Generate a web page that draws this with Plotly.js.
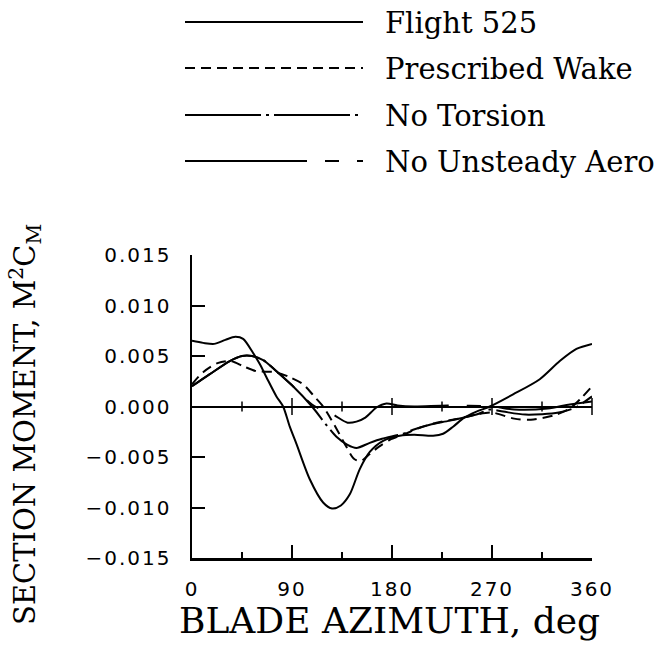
<!DOCTYPE html>
<html>
<head>
<meta charset="utf-8">
<script src="https://cdn.plot.ly/plotly-3.0.1.min.js"></script>
<style>
html,body{margin:0;padding:0;background:#fff;}
.xtick text, .ytick text { letter-spacing: 2px; }
</style>
</head>
<body>
<div id="chart" style="width:656px;height:646px;"></div>
<script>
// ---- data ----
const seriesNames = ["Flight 525", "Prescribed Wake", "No Torsion", "No Unsteady Aero"];

const flightX = [0, 10, 20, 30, 39, 46, 55, 61, 67, 76, 82, 88, 94, 106, 118, 126, 134, 142, 151, 160, 172, 187, 200, 217, 226, 235, 245, 256, 268, 289, 313, 331, 346, 360];
const flightY = [0.0065, 0.0063, 0.0062, 0.0066, 0.0069, 0.0067, 0.0053, 0.0042, 0.0029, 0.0010, 0.0, -0.0020, -0.0037, -0.0072, -0.0095, -0.0101, -0.0098, -0.0087, -0.0062, -0.0045, -0.0034, -0.0029, -0.0028, -0.0029, -0.0027, -0.0020, -0.0011, -0.0005, 0.0, 0.0012, 0.0027, 0.0045, 0.0057, 0.0062];

const wakeX = [0, 10, 23, 35, 46, 58, 75, 88, 100, 110, 118, 128, 138, 146, 152, 160, 168, 178, 190, 205, 220, 240, 256, 270, 290, 305, 325, 340, 350, 360];
const wakeY = [0.0022, 0.0034, 0.0043, 0.0045, 0.0040, 0.0035, 0.0034, 0.0029, 0.0022, 0.0010, 0.0, -0.0018, -0.0038, -0.0052, -0.0054, -0.0047, -0.0040, -0.0033, -0.0028, -0.0021, -0.0016, -0.0012, -0.0008, -0.0006, -0.0012, -0.0013, -0.0009, -0.0002, 0.0008, 0.0020];

const torsionX = [0, 16, 34, 45, 54, 64, 75, 90, 108, 120, 130, 140, 148, 160, 171, 190, 199, 214, 232, 256, 268, 280, 300, 330, 345, 360];
const torsionY = [0.0020, 0.0032, 0.0045, 0.0050, 0.0050, 0.0046, 0.0036, 0.0021, 0.0, -0.0017, -0.0030, -0.0038, -0.0041, -0.0036, -0.0032, -0.0027, -0.0023, -0.0018, -0.0014, -0.0008, -0.0003, -0.0005, -0.0008, -0.0006, -0.0001, 0.0010];

const unsteadyX = [0, 16, 34, 45, 54, 64, 75, 90, 108, 118, 127, 140, 148, 156, 166, 175, 185, 200, 230, 270, 290, 320, 340, 360];
const unsteadyY = [0.0020, 0.0032, 0.0045, 0.0050, 0.0050, 0.0046, 0.0036, 0.0021, 0.0002, -0.0004, -0.0008, -0.0016, -0.0015, -0.0011, -0.0001, 0.0003, 0.0001, 0.0, 0.0001, 0.0, -0.0003, -0.0002, 0.0002, 0.0005];

const xTickVals = [0, 90, 180, 270, 360];
const xTickText = ["0", "90", "180", "270", "360"];
const xMinorVals = [45, 135, 225, 315];
const yTickVals = [-0.015, -0.010, -0.005, 0.0, 0.005, 0.010, 0.015];
const yTickText = ["\u22120.015", "\u22120.010", "\u22120.005", "0.000", "0.005", "0.010", "0.015"];
const zeroTickMinorX = [45, 135, 225, 315];
const zeroTickMajorX = [90, 180, 270, 360];
const xTitle = "BLADE AZIMUTH, deg";
const yTitle = "SECTION MOMENT, M<sup>2</sup>C<sub>M</sub>";

// ---- styles ----
const dashes = ["solid", "10px,6px", "76px,5px,3px,5px", "122px,18px,14px,18px"];
const serif = "DejaVu Serif, Liberation Serif, serif";
const sans = "DejaVu Sans, Liberation Sans, sans-serif";

const xs = [flightX, wakeX, torsionX, unsteadyX];
const ys = [flightY, wakeY, torsionY, unsteadyY];

const traces = seriesNames.map((n, i) => ({
  type: "scatter", mode: "lines", name: n,
  x: xs[i], y: ys[i],
  line: {color: "black", width: 2, dash: dashes[i], shape: "spline", smoothing: 0.8},
  showlegend: false, hoverinfo: "skip"
}));

traces.push({
  type: "scatter", mode: "markers", x: zeroTickMinorX, y: zeroTickMinorX.map(() => 0),
  marker: {symbol: "line-ns", size: 7, line: {color: "black", width: 1.5}},
  showlegend: false, hoverinfo: "skip", cliponaxis: false
});
traces.push({
  type: "scatter", mode: "markers", x: zeroTickMajorX, y: zeroTickMajorX.map(() => 0),
  marker: {symbol: "line-ns", size: 12, line: {color: "black", width: 1.5}},
  showlegend: false, hoverinfo: "skip", cliponaxis: false
});

// custom legend (long line samples like the reference)
const legY = [1.769, 1.617, 1.462, 1.310];
const shapes = seriesNames.map((n, i) => ({
  type: "line", xref: "paper", yref: "paper",
  x0: -0.0175, x1: 0.4275, y0: legY[i], y1: legY[i],
  line: {color: "black", width: 2, dash: dashes[i]}
}));
const annotations = seriesNames.map((n, i) => ({
  xref: "paper", yref: "paper", x: 0.4775, y: legY[i] - 0.004,
  xanchor: "left", yanchor: "middle", text: n, showarrow: false,
  font: {family: serif, size: 29, color: "black"}
}));
annotations.push({
  xref: "paper", yref: "paper", x: 0.4925, y: -0.205,
  xanchor: "center", yanchor: "middle", text: xTitle, showarrow: false,
  font: {family: serif, size: 36, color: "black"}
});
annotations.push({
  xref: "paper", yref: "paper", x: -0.4175, y: 0.439, textangle: -90,
  xanchor: "center", yanchor: "middle", text: yTitle, showarrow: false,
  font: {family: serif, size: 29, color: "black"}
});

const layout = {
  width: 656, height: 646,
  margin: {l: 192, r: 64, t: 255, b: 88},
  paper_bgcolor: "white", plot_bgcolor: "white",
  showlegend: false,
  xaxis: {
    range: [0, 360], tickvals: xTickVals, ticktext: xTickText,
    ticks: "inside", ticklen: 13, tickwidth: 2, tickcolor: "black",
    minor: {tickvals: xMinorVals, ticks: "inside", ticklen: 6, tickwidth: 2, tickcolor: "black", showgrid: false},
    showline: true, linewidth: 2.5, linecolor: "black",
    showgrid: false, zeroline: false,
    ticklabelstandoff: 11,
    tickfont: {family: sans, size: 20, color: "black"}
  },
  yaxis: {
    range: [-0.015, 0.015], tickvals: yTickVals, ticktext: yTickText,
    ticks: "inside", ticklen: 13, tickwidth: 2, tickcolor: "black",
    showline: true, linewidth: 2.5, linecolor: "black",
    showgrid: false, zeroline: true, zerolinewidth: 2, zerolinecolor: "black",
    ticklabelstandoff: 14,
    tickfont: {family: sans, size: 20, color: "black"}
  },
  shapes: shapes,
  annotations: annotations
};

Plotly.newPlot("chart", traces, layout, {displayModeBar: false, staticPlot: true});
</script>
</body>
</html>
